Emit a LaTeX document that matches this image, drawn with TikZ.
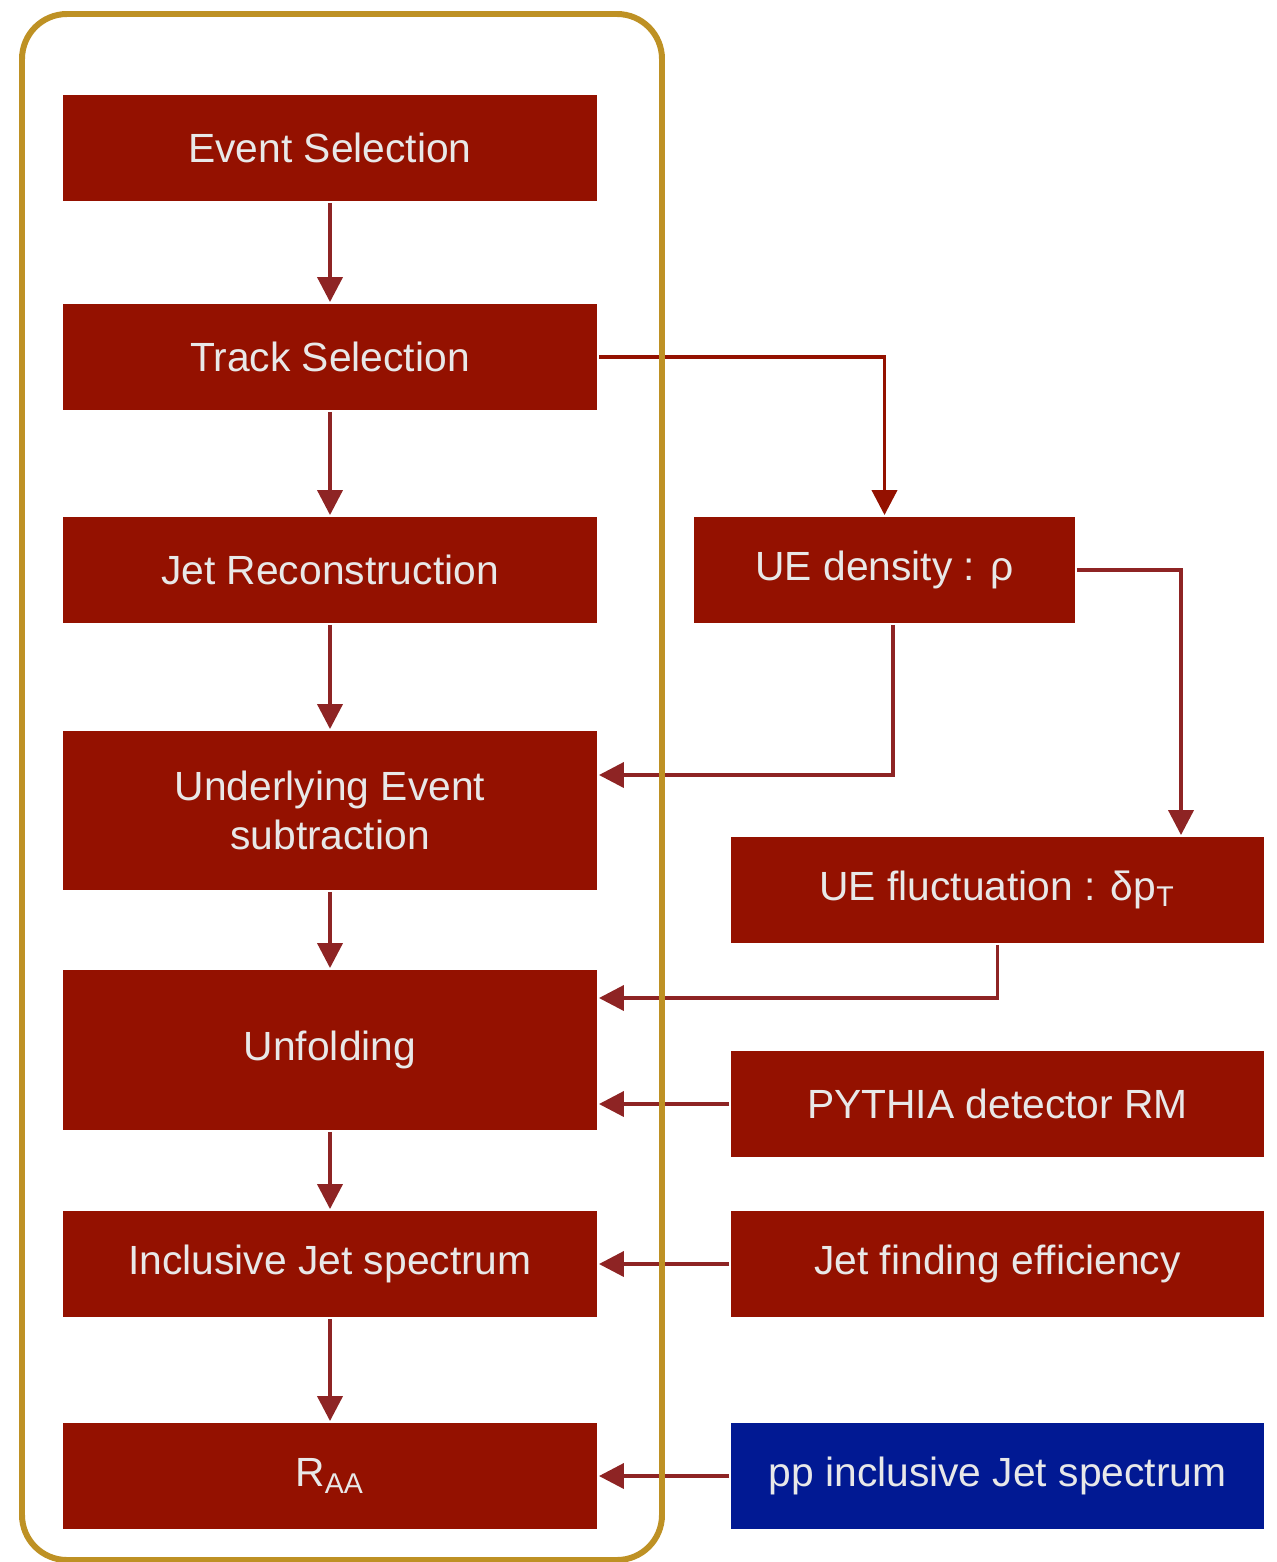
\documentclass[tikz,border=0pt]{standalone}
\usepackage{fontspec}
\setmainfont{Liberation Sans}
\usepackage{tikz}
\usetikzlibrary{arrows.meta,positioning,calc}
\definecolor{boxred}{HTML}{941100}
\definecolor{arrred}{HTML}{8E2424}
\definecolor{framegold}{HTML}{BE9124}
\definecolor{ppblue}{HTML}{011993}
\definecolor{txtgray}{HTML}{E8E8E8}

\begin{document}
\begin{tikzpicture}
[-{Triangle[length=2.5mm,width=2.5mm]}, line width=1.1pt, arrred,
box/.style={
fill=boxred,
text=txtgray,
inner sep=0pt,
align=center,
font=\fontsize{11.6}{14}\selectfont,
minimum height=1.06cm},
lbox/.style={box, minimum width=5.34cm},
rbox/.style={box, minimum width=5.33cm}]
\useasboundingbox (0,0) rectangle (12.76,-15.62);

\node (ev) at (3.30,-1.48) [lbox] {Event Selection};
\node (trk) at (3.30,-3.57) [lbox] {Track Selection};
\node (jet) at (3.30,-5.70) [lbox] {Jet Reconstruction};
\node (sub) at (3.30,-8.105) [lbox,minimum height=1.59cm] {Underlying Event\\subtraction};
\node (unf) at (3.30,-10.50) [lbox,minimum height=1.60cm] {Unfolding};
\node (inc) at (3.30,-12.64) [lbox] {Inclusive Jet spectrum};
\node (raa) at (3.30,-14.76) [lbox] {R\textsubscript{AA}};

\node (ued) at (8.845,-5.70) [box,minimum width=3.81cm] {UE density : ρ};
\node (uef) at (9.975,-8.90) [rbox] {UE fluctuation : δp\textsubscript{T}};
\node (pyt) at (9.975,-11.04) [rbox] {PYTHIA detector RM};
\node (jfe) at (9.975,-12.64) [rbox] {Jet finding efficiency};
\node (pp) at (9.975,-14.76) [rbox,fill=ppblue] {pp inclusive Jet spectrum};

% main chain
\draw (ev) -- (trk);
\draw (trk) -- (jet);
\draw (jet) -- (sub);
\draw (sub) -- (unf);
\draw (unf) -- (inc);
\draw (inc) -- (raa);

% side inputs
\draw[boxred] (trk.east) -| (ued.north);
\draw (ued.east) -| ([xshift=1.835cm]uef.north);
\draw ([xshift=0.085cm]ued.south) |- ([yshift=3.55mm]sub.east);
\draw (uef.south) |- ([yshift=5.2mm]unf.east);
\draw (pyt.west) -- (pyt.west -| unf.east);
\draw (jfe) -- (inc);
\draw (pp) -- (raa);

\draw[-,framegold,line width=1.7pt,rounded corners=0.45cm] (0.22,-0.14) rectangle (6.62,-15.60);
\end{tikzpicture}
\end{document}
